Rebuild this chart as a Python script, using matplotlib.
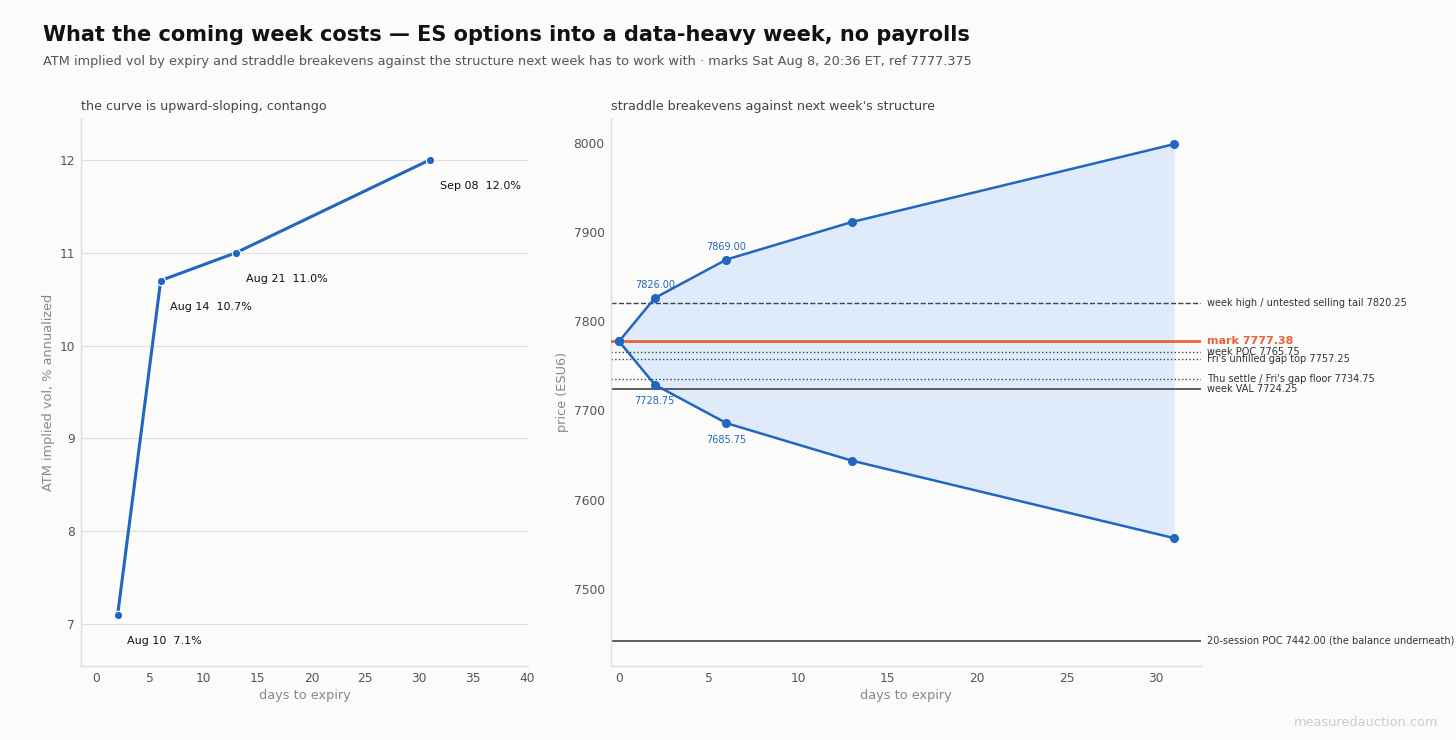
import matplotlib
matplotlib.use("Agg")
import matplotlib.pyplot as plt

# ---- data ----
iv_days = [2, 6, 13, 31]
iv_vals = [7.1, 10.7, 11.0, 12.0]
iv_labels = ["Aug 10", "Aug 14", "Aug 21", "Sep 08"]

be_days = [0, 2, 6, 13, 31]
be_upper = [7777.375, 7826.00, 7869.00, 7911.00, 7998.25]
be_lower = [7777.375, 7728.75, 7685.75, 7643.75, 7557.00]
be_label_idx = [1, 2]

ref_mark = 7777.375
level_values = [7820.25, 7765.75, 7757.25, 7734.75, 7724.25, 7442.00]
level_names = ["week high / untested selling tail 7820.25",
               "week POC 7765.75",
               "Fri's unfilled gap top 7757.25",
               "Thu settle / Fri's gap floor 7734.75",
               "week VAL 7724.25",
               "20-session POC 7442.00 (the balance underneath)"]
level_styles = ["--", ":", ":", ":", "-", "-"]

BG = "#fbfbf9"
BLUE = "#2166c0"
FILL = "#dfebfa"
ORANGE = "#e8623a"
DARK = "#444444"
GRID = "#dedede"

plt.rcParams['font.family'] = ['DejaVu Sans']
fig = plt.figure(figsize=(14.56, 7.40), dpi=100, facecolor=BG)

W, H = 1456, 740
def ax_rect(x0, y0, x1, y1):
    return [x0 / W, 1 - y1 / H, (x1 - x0) / W, (y1 - y0) / H]

ax1 = fig.add_axes(ax_rect(81, 118, 528, 666))
ax2 = fig.add_axes(ax_rect(611, 118, 1201, 666))

for ax in (ax1, ax2):
    ax.set_facecolor(BG)
    for s in ("top", "right"):
        ax.spines[s].set_visible(False)
    for s in ("left", "bottom"):
        ax.spines[s].set_color(GRID)
        ax.spines[s].set_linewidth(1.0)
    ax.tick_params(length=0, labelsize=8.8, labelcolor="#555555", pad=4.5)

# ---- left panel ----
ax1.grid(axis="y", color=GRID, linewidth=0.8)
ax1.set_axisbelow(True)
ax1.plot(iv_days, iv_vals, color=BLUE, lw=2.2, marker="o", ms=6,
         mec="white", mew=0.8, zorder=3)
for d, v, lab in zip(iv_days, iv_vals, iv_labels):
    ax1.annotate(f"{lab}  {v:.1f}%", (d, v), xytext=(7, -19),
                 textcoords="offset points", ha="left", va="center",
                 fontsize=8, color="#111111")
ax1.set_xlim(-1.4, 40.1)
ax1.set_ylim(6.55, 12.45)
ax1.set_xticks(range(0, 41, 5))
ax1.set_yticks([7, 8, 9, 10, 11, 12])
ax1.set_xlabel("days to expiry", color="#888888", fontsize=9.3, labelpad=3)
ax1.set_ylabel("ATM implied vol, % annualized", color="#888888", fontsize=9.3, labelpad=3)
ax1.set_title("the curve is upward-sloping, contango", loc="left",
              fontsize=9.2, color="#444444", pad=6)

# ---- right panel ----
ax2.fill_between(be_days, be_lower, be_upper, color=FILL, lw=0, zorder=1)
ax2.plot(be_days, be_upper, color=BLUE, lw=1.8, marker="o", ms=5.5, zorder=4)
ax2.plot(be_days, be_lower, color=BLUE, lw=1.8, marker="o", ms=5.5, zorder=4)
for i in be_label_idx:
    ax2.annotate(f"{be_upper[i]:.2f}", (be_days[i], be_upper[i]), xytext=(0, 9),
                 textcoords="offset points", ha="center", va="center",
                 fontsize=7, color=BLUE)
    ax2.annotate(f"{be_lower[i]:.2f}", (be_days[i], be_lower[i]), xytext=(0, -12),
                 textcoords="offset points", ha="center", va="center",
                 fontsize=7, color=BLUE)

trans = ax2.get_yaxis_transform()
for v, name, ls in zip(level_values, level_names, level_styles):
    ax2.axhline(v, color=DARK, lw=1.0 if ls != "-" else 1.2, ls=ls, zorder=2)
    ax2.text(1.01, v, name, transform=trans, ha="left", va="center",
             fontsize=7, color="#333333", clip_on=False)
ax2.axhline(ref_mark, color=ORANGE, lw=2.0, zorder=3)
ax2.text(1.01, ref_mark, f"mark {ref_mark:.2f}", transform=trans, ha="left",
         va="center", fontsize=8, color=ORANGE, fontweight="bold", clip_on=False)

ax2.set_xlim(-0.45, 32.5)
ax2.set_ylim(7413.8, 8027.5)
ax2.set_xticks(range(0, 31, 5))
ax2.set_yticks([7500, 7600, 7700, 7800, 7900, 8000])
ax2.set_xlabel("days to expiry", color="#888888", fontsize=9.3, labelpad=3)
ax2.set_ylabel("price (ESU6)", color="#888888", fontsize=9.3, labelpad=3)
ax2.set_title("straddle breakevens against next week's structure", loc="left",
              fontsize=9.2, color="#444444", pad=6)

# ---- titles ----
fig.text(43 / W, 1 - 35 / H, "What the coming week costs \u2014 ES options into a data-heavy week, no payrolls",
         fontsize=15.0, fontweight="bold", color="#111111", ha="left", va="center")
fig.text(43 / W, 1 - 62 / H,
         "ATM implied vol by expiry and straddle breakevens against the structure next week has to work with \u00b7 marks Sat Aug 8, 20:36 ET, ref 7777.375",
         fontsize=9.3, color="#555555", ha="left", va="center")
fig.text(1438 / W, 1 - 723 / H, "measuredauction.com", fontsize=9.3,
         color="#cccccc", ha="right", va="center")

fig.savefig("out.png", dpi=100, facecolor=BG)
